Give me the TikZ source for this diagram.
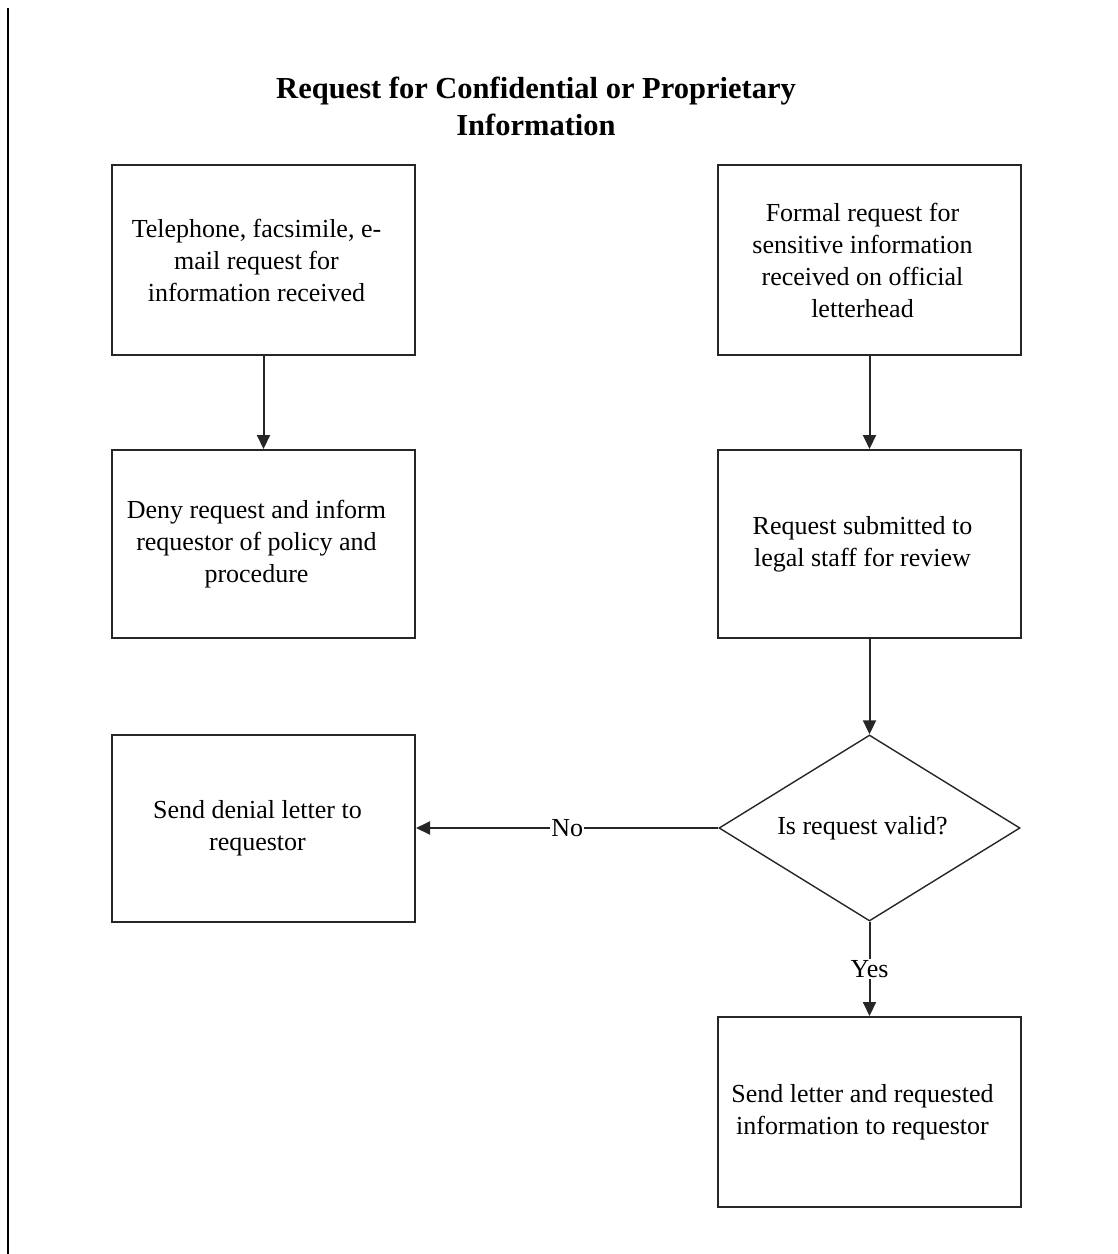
\documentclass[tikz,border=0pt]{standalone}
\usepackage{fontspec}
\setmainfont{Liberation Serif}
\usetikzlibrary{shapes.geometric,arrows.meta}
\begin{document}
\begin{tikzpicture}[x=1pt,y=-1pt,
  every node/.style={font=\fontsize{26}{32}\selectfont},
  stepbox/.style={draw=black!85,line width=2pt,rectangle,minimum width=303pt,inner sep=0pt},
  boxtext/.style={inner sep=0pt,align=center},
  decision/.style={draw=black!85,line width=1.4pt,diamond,aspect=1.62,minimum width=301pt,minimum height=186pt,inner sep=0pt},
  flow/.style={draw=black!85,line width=2pt,-{Triangle[length=14pt,width=13pt]}},
  lbl/.style={fill=white,inner sep=1pt}]
\useasboundingbox (0,0) rectangle (1118,1254);
% page margin rule
\draw[line width=2pt] (8,8) -- (8,1254);
% title
\node[font=\fontsize{30.5}{37}\selectfont\bfseries,align=center] (title) at (536,106)
  {Request for Confidential or Proprietary\\Information};
% boxes
\node[stepbox,minimum height=190pt] (phone) at (263.5,260) {};
\node[stepbox,minimum height=190pt] (formal) at (869.5,260) {};
\node[stepbox,minimum height=188pt] (deny) at (263.5,544) {};
\node[stepbox,minimum height=188pt] (legal) at (869.5,544) {};
\node[decision] (valid) at (869.5,828) {};
\node[stepbox,minimum height=187pt] (denial) at (263.5,828) {};
\node[stepbox,minimum height=190pt] (send) at (869.5,1112) {};
% box texts, set a little left of each box centre
\node[boxtext] (phone-t) at ([xshift=-7pt]phone.center)
  {Telephone, facsimile, e-\\mail request for\\information received};
\node[boxtext] (formal-t) at ([xshift=-7pt]formal.center)
  {Formal request for\\sensitive information\\received on official\\letterhead};
\node[boxtext] (deny-t) at ([xshift=-7pt]deny.center)
  {Deny request and inform\\requestor of policy and\\procedure};
\node[boxtext] (legal-t) at ([xshift=-7pt]legal.center)
  {Request submitted to\\legal staff for review};
\node[boxtext] (valid-t) at ([xshift=-7pt]valid.center) {Is request valid?};
\node[boxtext] (denial-t) at ([xshift=-6pt]denial.center)
  {Send denial letter to\\requestor};
\node[boxtext] (send-t) at ([xshift=-7pt]send.center)
  {Send letter and requested\\information to requestor};
% connectors
\draw[flow] (phone) -- (deny);
\draw[flow] (formal) -- (legal);
\draw[flow] (legal) -- (valid);
\draw[flow] (valid.west) -- node[lbl] {No} (denial.east);
\draw[flow] (valid.south) -- node[lbl] {Yes} (send.north);
\end{tikzpicture}
\end{document}
